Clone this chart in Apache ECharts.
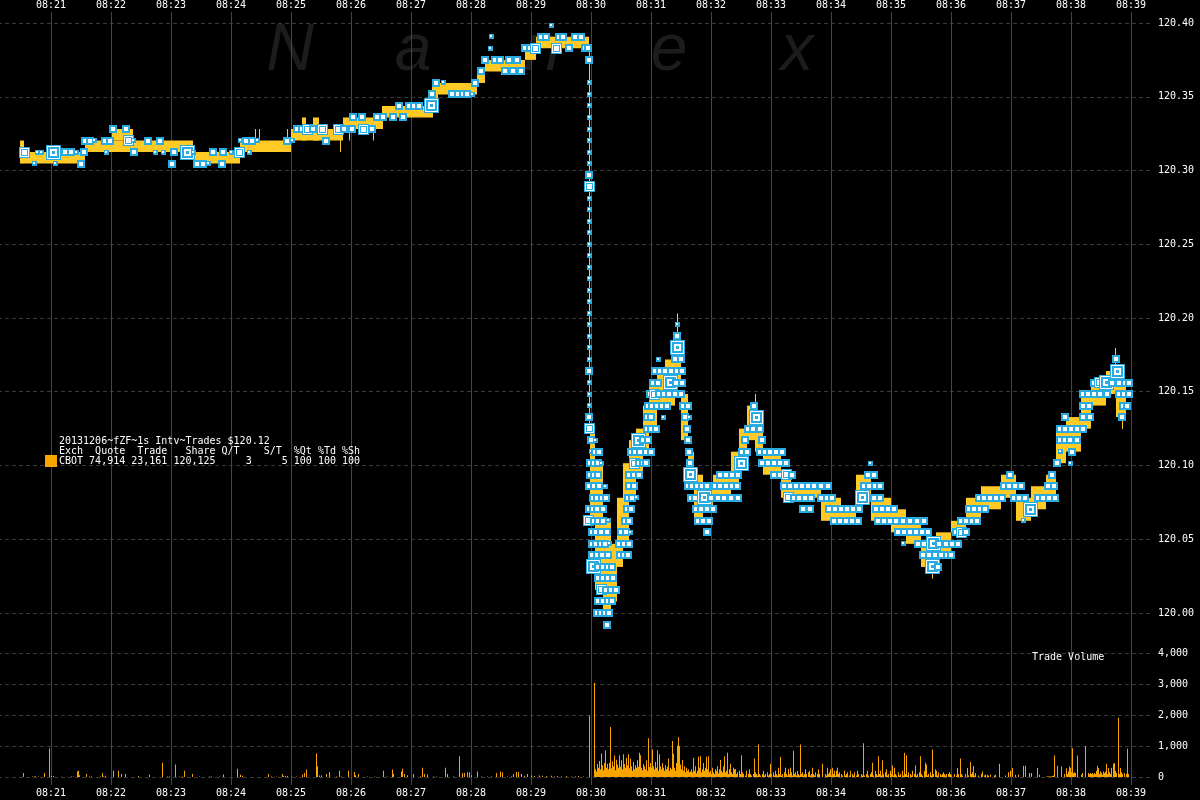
<!DOCTYPE html>
<html><head><meta charset="utf-8">
<script src="https://cdn.jsdelivr.net/npm/echarts@6/dist/echarts.min.js"></script>
<style>html,body{margin:0;padding:0;background:#000}#c{width:1200px;height:800px}</style>
</head><body><div id="c"></div>
<script>
// ---------- DATA ----------
// time = seconds after 08:20:00 ; price tick = 1/128 above 120.00
const TIME_LABELS = ['08:21','08:22','08:23','08:24','08:25','08:26','08:27','08:28','08:29','08:30',
  '08:31','08:32','08:33','08:34','08:35','08:36','08:37','08:38','08:39'];
const PRICE_LABELS = ['120.00','120.05','120.10','120.15','120.20','120.25','120.30','120.35','120.40'];
const VOLUME_LABELS = ['0','1,000','2,000','3,000','4,000'];
const LEGEND_LINES = [
  '20131206~fZF~1s Intv~Trades $120.12',
  'Exch  Quote  Trade   Share Q/T    S/T  %Qt %Td %Sh',
  'CBOT 74,914 23,161 120,125     3     5 100 100 100'
];
const WATERMARK = ['N','a','n','e','x'];
const VOLUME_TITLE = 'Trade Volume';

// quotes: [tStart, tEnd, bidTick, askTick]
const QUOTES = [
  [29,33,39,41],[33,94,39,40],[94,142,40,41],[121,142,41,42],[142,202,40,41],[202,249,39,40],
  [249,300,40,41],[264,265,40,42],[268,269,40,42],[296,297,40,42],
  [300,352,41,42],[311,315,41,43],[322,328,41,43],[349,350,40,42],
  [352,392,42,43],[358,359,41,43],[382,383,41,43],
  [391,442,43,44],[441,447,44,46],[447,486,45,46],[486,494,46,47],[494,534,47,48],
  [534,545,48,49],[545,598,49,50],
  [598,599,16,49],[599,604,8,16],[604,612,2,13],[612,620,0,8],[620,626,1,6],[626,632,4,10],
  [632,638,6,13],[638,645,10,15],[645,652,12,16],[652,658,14,18],[658,666,16,20],[666,674,18,21],
  [674,684,18,22],[684,690,20,24],[686,687,22,26],[690,697,15,19],[697,703,11,14],[703,712,8,12],
  [712,722,9,11],[722,740,10,12],[740,748,11,14],[748,756,13,16],[756,764,15,18],[764,765,17,19],
  [764,772,14,17],[772,790,12,14],[790,800,10,12],[800,830,10,11],[830,850,8,10],[850,865,8,9],
  [865,880,10,12],[880,900,8,10],[900,915,7,9],[915,930,6,8],[930,945,4,6],[941,942,3,5],
  [945,960,5,7],[960,975,7,8],[975,990,8,10],[990,1010,9,11],[1010,1025,10,12],[1025,1040,8,10],
  [1040,1055,9,11],[1055,1065,10,12],[1065,1075,13,16],[1075,1090,14,17],[1090,1100,16,19],
  [1100,1115,18,20],[1115,1125,19,21],[1124,1125,21,23],[1125,1135,17,20],[1131,1132,16,19]
];

// trades: [time, priceTick, sizeClass 1..4]
const TRADES = [
  [33,40,3],[43,39,1],[46,40,1],[50,40,1],[62,40,4],[64,39,1],[74,40,2],[80,40,2],[85,40,1],[90,39,2],
  [93,40,2],[94,41,2],[99,41,2],[103,41,1],[114,41,2],[119,41,2],[122,42,2],[135,42,2],[115,40,1],
  [137,41,3],[142,41,1],[143,40,2],[157,41,2],[169,41,2],[164,40,1],[172,40,1],[181,39,2],[183,40,2],
  [196,40,4],[202,40,1],[206,39,2],[212,39,2],[217,39,1],[222,40,2],[231,39,2],[232,40,2],[240,40,1],
  [248,40,3],[249,41,1],[255,41,2],[261,41,2],[266,41,1],[258,40,1],[296,41,2],[301,41,1],
  [306,42,2],[311,42,2],[316,42,3],[322,42,2],[331,42,3],[335,41,2],[347,42,3],[353,42,2],[361,42,2],
  [362,43,2],[371,43,2],[372,42,3],[381,42,2],[386,43,2],[392,43,2],[402,43,2],[408,44,2],[412,43,2],
  [418,44,2],[423,44,2],[428,44,2],[440,44,4],[441,45,2],[445,46,2],[452,46,1],[461,45,2],[467,45,2],
  [472,45,2],[476,45,2],[481,45,1],[484,46,2],[490,47,2],[494,48,2],[499,49,1],[500,50,1],
  [504,48,2],[509,48,2],[514,47,2],[518,48,2],[522,47,2],[526,48,2],[530,47,2],[534,49,2],[539,49,2],
  [544,49,3],[550,50,2],[555,50,2],[560,51,1],[565,49,3],[568,50,2],[572,50,2],[578,49,2],[584,50,2],
  [590,50,2],[594,49,2],[597,49,2],
  // 08:30 drop
  [598,48,2],[598,46,1],[598,45,1],[598,44,1],[598,43,1],[598,42,1],[598,41,1],[598,40,1],[598,39,1],
  [598,38,2],[598,37,3],[598,36,1],[598,35,1],[598,34,1],[598,33,1],[598,32,1],[598,31,1],[598,30,1],
  [598,29,1],[598,28,1],[598,27,1],[598,26,1],[598,25,1],[598,24,1],[598,23,1],[598,22,1],[598,21,2],
  [598,20,1],[598,19,1],[598,18,1],[598,17,2],[598,16,3],
  [600,15,2],[604,15,1],[600,14,1],[604,14,2],[608,14,2],[599,13,2],[603,13,2],[607,13,2],[610,13,1],
  [599,12,2],[603,12,2],[607,12,2],[598,11,2],[603,11,2],[608,11,2],[614,11,1],
  [602,10,2],[606,10,2],[611,10,2],[615,10,2],[598,9,2],[602,9,2],[606,9,2],[612,9,2],
  [597,8,3],[603,8,2],[607,8,2],[612,8,2],[617,8,1],[601,7,2],[605,7,2],[610,7,2],[616,7,2],
  [601,6,2],[605,6,2],[610,6,2],[614,6,2],[618,6,1],[601,5,2],[606,5,2],[611,5,2],[617,5,2],
  [602,4,4],[607,4,2],[612,4,2],[617,4,2],[621,4,2],[607,3,2],[612,3,2],[617,3,2],[622,3,2],
  [610,2,3],[615,2,2],[620,2,2],[625,2,2],[607,1,2],[612,1,2],[617,1,2],[621,1,2],
  [606,0,2],[610,0,2],[614,0,2],[618,0,2],[616,-1,2],
  // recovery
  [629,5,2],[633,5,2],[637,5,2],[628,6,2],[633,6,2],[638,6,2],[630,7,2],[635,7,2],[639,7,1],
  [634,8,2],[638,8,2],[636,9,2],[640,9,2],[637,10,2],[641,10,2],[645,10,1],[638,11,2],[643,11,2],
  [638,12,2],[643,12,2],[648,12,2],[643,13,3],[648,13,2],[652,13,2],[655,13,2],
  [640,14,2],[644,14,2],[649,14,2],[655,14,2],[660,14,2],[647,15,4],[652,15,2],[657,15,2],
  [656,16,2],[660,16,2],[665,16,2],[656,17,2],[660,17,2],[672,17,1],
  [657,18,2],[661,18,2],[666,18,2],[671,18,2],[676,18,2],[692,18,2],[697,18,2],
  [659,19,2],[663,19,3],[668,19,2],[673,19,2],[678,19,2],[684,19,2],[690,19,2],
  [662,20,2],[667,20,2],[679,20,4],[685,20,2],[691,20,2],
  [664,21,2],[669,21,2],[674,21,2],[680,21,2],[686,21,2],[691,21,2],
  [667,22,1],[684,22,2],[690,22,2],[686,23,4],[686,24,2],[686,25,1],
  [694,17,2],[698,17,1],[696,16,2],[697,15,2],[698,14,2],[699,13,2],[699,12,4],
  [697,11,2],[701,11,2],[706,11,2],[711,11,2],[716,11,2],[700,10,2],[704,10,2],[713,10,4],[720,10,2],[726,10,2],
  [705,9,2],[710,9,2],[716,9,2],[722,9,2],[707,8,2],[712,8,2],[718,8,2],[716,7,2],
  [727,10,2],[733,10,2],[740,10,2],[747,10,2],[724,11,2],[729,11,2],[735,11,2],[741,11,2],[746,11,2],
  [729,12,2],[735,12,2],[741,12,2],[747,12,2],[750,13,4],[751,14,2],[756,14,2],[754,15,2],
  [757,16,2],[762,16,2],[765,17,4],[763,18,2],[769,16,2],[771,15,2],
  [769,14,2],[774,14,2],[779,14,2],[785,14,2],[791,14,2],[771,13,2],[777,13,2],[783,13,2],[789,13,2],[795,13,2],
  [783,12,2],[789,12,2],[795,12,3],[801,12,2],
  [793,11,2],[799,11,2],[805,11,2],[811,11,2],[817,11,2],[823,11,2],[830,11,2],[837,11,2],
  [797,10,3],[803,10,2],[808,10,2],[814,10,2],[820,10,2],[830,10,2],[836,10,2],[841,10,2],
  [812,9,2],[819,9,2],[838,9,2],[844,9,2],[850,9,2],[856,9,2],[862,9,2],[868,9,2],
  [843,8,2],[849,8,2],[855,8,2],[861,8,2],[867,8,2],
  [871,10,4],[883,10,2],[889,10,2],[873,11,2],[878,11,2],[884,11,2],[889,11,2],[879,13,1],
  [877,12,2],[883,12,2],[885,9,2],[891,9,2],[897,9,2],[903,9,2],
  [887,8,2],[893,8,2],[899,8,2],[905,8,2],[912,8,2],[919,8,2],[926,8,2],[933,8,2],
  [907,7,2],[913,7,2],[919,7,2],[925,7,2],[931,7,2],[937,7,2],
  [912,6,1],[927,6,2],[933,6,2],[942,6,4],[948,6,2],[955,6,2],[961,6,2],[967,6,2],
  [932,5,2],[938,5,2],[944,5,2],[950,5,2],[956,5,2],[960,5,2],[941,4,4],[947,4,2],
  [965,7,2],[970,7,3],[975,7,2],[970,8,2],[975,8,2],[981,8,2],[986,8,2],
  [978,9,2],[983,9,2],[989,9,2],[994,9,2],[988,10,2],[993,10,2],[999,10,2],[1005,10,2],[1011,10,2],
  [1013,11,2],[1018,11,2],[1024,11,2],[1030,11,2],[1019,12,2],[1023,10,2],[1028,10,2],[1034,10,2],
  [1039,9,4],[1032,8,1],[1047,10,2],[1052,10,2],[1058,10,2],[1064,10,2],[1057,11,2],[1063,11,2],
  [1061,12,2],[1066,13,2],[1079,13,1],[1069,14,1],[1081,14,2],
  [1069,15,2],[1074,15,2],[1079,15,2],[1086,15,2],[1069,16,2],[1074,16,2],[1080,16,2],[1086,16,2],[1092,16,2],
  [1074,17,2],[1092,17,2],[1099,17,2],[1092,18,2],[1098,18,2],
  [1092,19,2],[1097,19,2],[1103,19,2],[1109,19,2],[1116,19,2],
  [1103,20,2],[1108,20,3],[1115,20,4],[1121,20,2],[1126,21,4],[1125,22,2],
  [1128,20,2],[1134,20,2],[1138,20,2],[1128,19,2],[1133,19,2],[1138,19,2],[1132,18,2],[1136,18,2],[1131,17,2]
];

// volume before 08:29:58 : [time, shares]
const VOLUME_SPARSE = [
  [32,130],[41,20],[43,20],[44,20],[47,20],[53,130],[58,920],[60,40],[62,30],[70,10],[75,10],[80,15],
  [82,15],[86,180],[87,200],[88,60],[95,100],[98,20],[100,20],[109,20],[111,130],[112,20],[114,40],
  [122,200],[127,200],[130,100],[134,100],[147,30],[158,70],[171,460],[176,20],[178,20],[184,400],
  [188,20],[191,20],[193,200],[201,100],[208,15],[218,15],[220,15],[228,15],[232,80],[246,270],
  [249,70],[251,40],[277,100],[280,20],[285,15],[291,100],[292,30],[294,30],[296,30],[300,15],
  [305,15],[311,70],[313,130],[315,240],[325,760],[326,350],[328,50],[330,50],[335,100],[338,160],
  [345,20],[348,200],[350,20],[357,200],[363,160],[364,60],[367,100],[376,20],[383,20],[392,200],
  [396,20],[401,240],[402,100],[410,180],[411,270],[413,100],[416,60],[422,100],[429,20],[431,300],
  [433,100],[436,80],[442,20],[445,20],[454,300],[456,100],[462,20],[468,670],[471,130],[473,130],
  [476,150],[478,150],[480,60],[486,180],[490,20],[496,20],[500,20],[505,130],[509,180],[511,150],
  [516,20],[520,20],[522,100],[525,160],[527,160],[530,100],[533,40],[536,100],[540,60],[543,30],
  [548,50],[551,40],[555,30],[560,40],[563,20],[566,30],[570,20],[575,30],[580,20],[584,20],
  [587,30],[592,20]
];
// volume every second from 08:29:58
const VOLUME_DENSE_START = 598;
const VOLUME_DENSE = [
  1980,0,0,0,0,3040,250,180,420,300,520,240,760,380,220,450,860,300,430,250,
  460,1610,280,500,350,690,220,560,400,300,700,330,540,250,730,420,300,620,380,730,
  280,590,350,200,480,250,380,300,540,330,780,700,300,220,420,350,250,540,200,1250,
  320,450,300,890,350,250,480,300,860,200,730,350,250,450,300,200,380,250,330,600,
  200,300,250,1160,750,300,200,450,1020,1280,1000,400,250,550,200,350,150,300,200,250,
  150,180,250,150,620,200,350,120,200,650,300,680,150,250,450,200,300,650,250,670,
  150,200,100,300,150,100,250,200,350,120,250,550,200,150,350,670,150,200,780,100,
  250,430,150,100,300,250,260,100,150,0,200,100,700,150,100,0,50,200,0,100,
  250,100,50,0,100,600,150,100,50,1050,100,50,0,100,200,50,100,0,150,50,
  100,430,100,0,150,50,200,100,50,300,100,650,50,100,0,150,300,100,50,250,
  100,300,150,50,840,100,150,50,200,100,50,1050,100,150,50,100,250,100,0,150,
  200,50,100,300,100,50,150,0,100,250,100,0,0,430,0,0,100,50,300,100,
  150,250,50,300,100,200,50,200,300,100,150,0,100,50,0,200,50,100,150,0,
  50,200,0,100,50,150,0,50,200,100,0,0,100,50,1090,50,0,100,200,50,
  0,100,150,460,50,0,200,100,50,670,100,200,50,540,100,0,150,250,50,100,
  0,200,100,370,50,300,100,50,0,150,50,100,0,200,50,780,100,700,50,150,
  0,100,50,200,0,100,370,50,100,0,150,670,100,50,0,200,460,400,50,100,
  0,150,50,890,100,0,250,200,50,150,0,100,50,100,150,100,50,100,0,100,
  150,100,50,0,0,100,0,50,290,100,0,600,100,50,0,0,100,0,290,50,
  0,480,100,150,360,50,130,0,0,50,0,0,100,180,0,50,80,0,70,50,
  0,70,0,0,0,50,70,0,0,0,425,0,0,0,0,0,50,0,0,150,
  0,200,0,290,0,0,70,0,0,70,0,0,0,0,360,0,360,0,0,0,
  130,0,130,0,0,0,0,0,290,0,70,0,0,0,0,0,0,20,20,20,
  20,20,20,30,50,690,0,0,360,0,0,0,340,0,0,100,0,280,100,180,
  340,300,150,925,120,150,130,0,690,0,0,0,70,130,0,0,1000,0,0,130,
  90,130,100,130,80,130,100,200,360,290,100,180,130,70,180,130,180,425,100,290,
  150,100,290,0,425,450,200,130,0,1915,100,290,150,100,0,130,0,100,915,100,
  0,0
];

// ---------- BUILD ----------
const TICK = 1/128;
const price = n => 120 + n * TICK;
const BLUE = '#29abe2', YELLOW = '#ffc926', ORANGE = '#f8a500', TXT = '#ffffff';
const MONO = '"DejaVu Sans Mono", monospace';
const BOX_PX = [0, 5, 8, 11, 15];

const quoteData = QUOTES.map(q => [q[0], q[1], price(q[2]), price(q[3])]);
const tradeData = TRADES.map(t => [t[0], price(t[1]), t[2]]);
const volData = VOLUME_SPARSE.map(v => [v[0], v[1]])
  .concat(VOLUME_DENSE.map((v, i) => [VOLUME_DENSE_START + i, v]).filter(d => d[1] > 0));

const timeFmt = v => (v % 60 === 0 && v >= 60 && v <= 1140) ? TIME_LABELS[v / 60 - 1] : '';

const chart = echarts.init(document.getElementById('c'), null, {renderer: 'canvas'});
const hiddenX = (gi) => ({type: 'value', gridIndex: gi, min: 0, max: 1162, show: false});
const G = {containLabel: false, outerBoundsMode: 'none'};

chart.setOption({
  backgroundColor: '#000',
  animation: false,
  grid: [
    Object.assign({left: -9, right: 69, top: 12, bottom: 15}, G),
    Object.assign({left: -9, right: 47, top: 23, height: 590}, G),
    Object.assign({left: -9, right: 47, top: 653, height: 124}, G)
  ],
  xAxis: [
    {type: 'value', gridIndex: 0, position: 'top', min: 0, max: 1140, interval: 60,
      axisLine: {show: false}, axisTick: {show: false},
      axisLabel: {color: TXT, fontFamily: MONO, fontSize: 10, margin: 2, formatter: timeFmt},
      splitLine: {show: true, lineStyle: {color: '#454545', width: 1, type: 'solid'}}},
    {type: 'value', gridIndex: 0, position: 'bottom', min: 0, max: 1140, interval: 60,
      axisLine: {show: false}, axisTick: {show: false},
      axisLabel: {color: TXT, fontFamily: MONO, fontSize: 10, margin: 3, formatter: timeFmt},
      splitLine: {show: false}},
    hiddenX(1), hiddenX(2)
  ],
  yAxis: [
    {type: 'value', gridIndex: 0, min: 0, max: 1, show: false},
    {type: 'value', gridIndex: 1, position: 'right', min: 120, max: 120.4, interval: 0.05,
      axisLine: {show: false}, axisTick: {show: false},
      axisLabel: {color: TXT, fontFamily: MONO, fontSize: 10, margin: 5, align: 'left',
        formatter: v => PRICE_LABELS[Math.round((v - 120) / 0.05)]},
      splitLine: {show: true, lineStyle: {color: '#3a3a3a', width: 1, type: [4, 3]}}},
    {type: 'value', gridIndex: 2, position: 'right', min: 0, max: 4000, interval: 1000,
      axisLine: {show: false}, axisTick: {show: false},
      axisLabel: {color: TXT, fontFamily: MONO, fontSize: 10, margin: 5, align: 'left',
        formatter: v => VOLUME_LABELS[Math.round(v / 1000)]},
      splitLine: {show: true, lineStyle: {color: '#3a3a3a', width: 1, type: [4, 3]}}}
  ],
  graphic: [
    ...WATERMARK.map((ch, i) => ({type: 'text', x: [290, 413, 542, 669, 797][i], y: 52, z: -10,
      style: {text: ch, fill: '#1c1c1c', font: 'italic 66px "Liberation Sans", sans-serif',
        align: 'center', verticalAlign: 'middle'}})),
    {type: 'rect', shape: {x: 45, y: 455, width: 12, height: 12}, style: {fill: ORANGE}, z: 100},
    ...LEGEND_LINES.map((s, i) => ({type: 'text', x: 59, y: 441 + i * 10, z: 100,
      style: {text: s, fill: TXT, font: '10px ' + MONO, verticalAlign: 'middle', align: 'left'}})),
    {type: 'text', x: 1032, y: 657, z: 100,
      style: {text: VOLUME_TITLE, fill: TXT, font: '10px ' + MONO, verticalAlign: 'middle', align: 'left'}}
  ],
  series: [
    {type: 'custom', name: 'quotes', xAxisIndex: 2, yAxisIndex: 1, clip: false, silent: true,
      data: quoteData,
      renderItem: (params, api) => {
        const a = api.coord([api.value(0), api.value(3)]);
        const b = api.coord([api.value(1), api.value(2)]);
        return {type: 'rect', shape: {x: a[0], y: a[1], width: Math.max(1, b[0] - a[0]), height: b[1] - a[1]},
          style: {fill: YELLOW}};
      }},
    {type: 'custom', name: 'trades', xAxisIndex: 2, yAxisIndex: 1, clip: false, silent: true,
      data: tradeData,
      renderItem: (params, api) => {
        const c = api.coord([api.value(0), api.value(1)]);
        const s = BOX_PX[api.value(2)];
        const x = Math.round(c[0] - s / 2), y = Math.round(c[1] - s / 2);
        const ch = [{type: 'rect', shape: {x, y, width: s, height: s}, style: {fill: BLUE}}];
        if (s >= 11) ch.push({type: 'rect', shape: {x: x + 1.5, y: y + 1.5, width: s - 3, height: s - 3},
          style: {fill: null, stroke: '#fff', lineWidth: 1}});
        const w = s >= 15 ? 7 : s >= 11 ? 5 : s >= 8 ? 4 : 2;
        const o = Math.floor((s - w) / 2);
        ch.push({type: 'rect', shape: {x: x + o, y: y + o, width: w, height: w}, style: {fill: '#fff'}});
        if (s >= 15) ch.push({type: 'rect', shape: {x: x + o + 2, y: y + o + 2, width: w - 4, height: w - 4}, style: {fill: BLUE}});
        return {type: 'group', children: ch};
      }},
    {type: 'custom', name: 'volume', xAxisIndex: 3, yAxisIndex: 2, clip: false, silent: true,
      data: volData,
      renderItem: (params, api) => {
        const a = api.coord([api.value(0), api.value(1)]);
        const b = api.coord([api.value(0), 0]);
        return {type: 'rect', shape: {x: Math.round(a[0]), y: a[1], width: 1, height: b[1] - a[1]},
          style: {fill: ORANGE}};
      }}
  ]
});
</script></body></html>
